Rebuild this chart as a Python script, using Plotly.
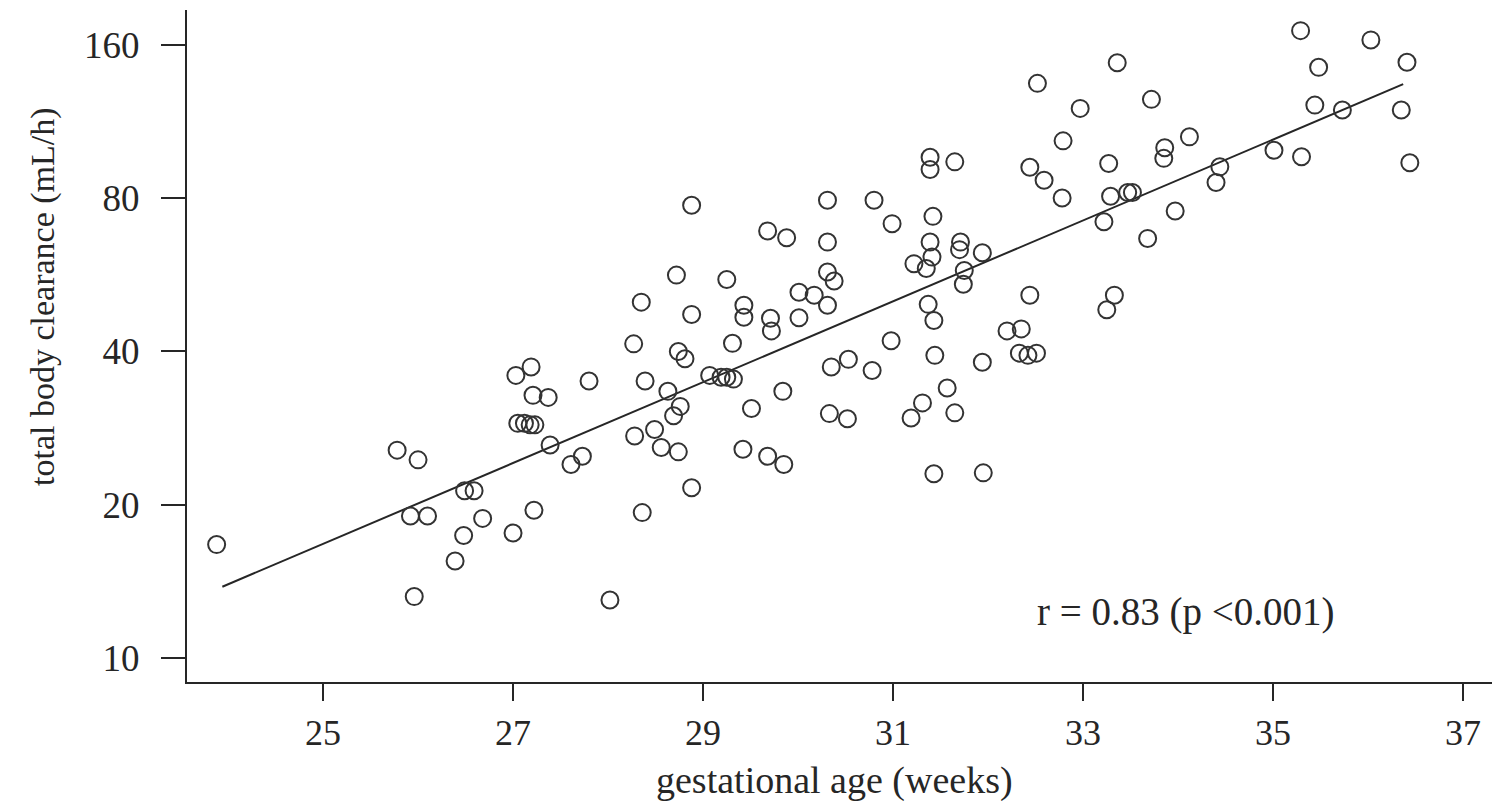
import plotly.graph_objects as go

# Gestational age (weeks) and total body clearance (mL/h) per infant
gest_age_weeks = [
    23.88, 25.78, 26.00, 26.49, 26.59, 25.92, 26.10, 26.68, 26.48, 26.39,
    25.96, 27.00, 27.03, 27.19, 27.21, 27.37, 27.05, 27.12, 27.18, 27.23,
    27.39, 27.61, 27.73, 27.22, 27.80, 28.02,
    28.88, 28.72, 28.35, 28.88, 28.27, 28.74, 28.81, 28.39, 28.63, 28.76,
    28.69, 28.28, 28.49, 28.56, 28.74, 28.88, 28.36,
    29.25, 29.43, 29.43, 29.71, 29.72, 29.31, 29.07, 29.19, 29.25, 29.32,
    29.51, 29.42, 29.68, 29.85, 29.84, 29.68, 29.88, 30.01, 30.01,
    30.31, 30.31, 30.31, 30.38, 30.17, 30.31, 30.53, 30.35, 30.78, 30.33,
    30.52, 30.80, 30.99, 30.98,
    31.39, 31.39, 31.65, 31.42, 31.39, 31.41, 31.22, 31.35, 31.71, 31.70,
    31.94, 31.75, 31.74, 31.37, 31.43, 31.44, 31.94, 31.57, 31.31, 31.19,
    31.65, 31.43, 31.95,
    32.44, 32.59, 32.78, 32.52, 32.97, 32.79, 32.44, 32.20, 32.35, 32.33,
    32.42, 32.51,
    33.27, 33.29, 33.47, 33.52, 33.22, 33.68, 33.97, 33.33, 33.25, 33.36,
    33.72, 34.12, 33.86, 33.85,
    34.44, 34.40, 35.01, 35.30, 35.29, 36.03, 36.41, 35.48, 36.35, 35.44,
    35.73, 36.44,
]
clearance_ml_h = [
    16.7, 25.6, 24.5, 21.3, 21.3, 19.0, 19.0, 18.8, 17.4, 15.5,
    13.2, 17.6, 35.9, 37.3, 32.8, 32.5, 28.9, 28.9, 28.7, 28.7,
    26.2, 24.0, 24.9, 19.5, 35.0, 13.0,
    77.5, 56.5, 50.0, 47.3, 41.4, 40.0, 38.7, 35.0, 33.4, 31.2,
    29.9, 27.3, 28.1, 25.9, 25.4, 21.6, 19.3,
    55.4, 49.3, 46.7, 46.5, 43.9, 41.5, 35.9, 35.6, 35.6, 35.3,
    30.9, 25.7, 24.9, 24.0, 33.4, 69.0, 66.9, 52.3, 46.6,
    79.3, 65.6, 57.3, 55.0, 51.6, 49.3, 38.6, 37.3, 36.7, 30.2,
    29.5, 79.3, 71.3, 42.0,
    96.3, 91.1, 94.3, 73.7, 65.6, 61.3, 59.5, 58.2, 65.6, 63.4,
    62.5, 57.7, 54.2, 49.5, 46.0, 39.3, 38.1, 33.9, 31.7, 29.6,
    30.3, 23.0, 23.1,
    92.0, 86.8, 80.1, 134.5, 120.1, 103.7, 51.6, 43.9, 44.3, 39.7,
    39.3, 39.7,
    93.6, 80.7, 82.1, 82.1, 71.9, 66.7, 75.5, 51.6, 48.3, 147.6,
    125.1, 105.6, 100.5, 95.8,
    92.2, 85.9, 99.4, 96.5, 170.7, 163.7, 148.0, 144.6, 119.2, 121.9,
    119.2, 93.9,
]

# Log-linear regression line end points
fit_weeks = [23.94, 36.37]
fit_clearance = [13.8, 134.0]

x_ticks = [25, 27, 29, 31, 33, 35, 37]
y_ticks = [10, 20, 40, 80, 160]
y_tick_text = ["10", "20", "40", "80", "160"]

SERIF = "Liberation Serif, Times New Roman, serif"
INK = "#262626"

fig = go.Figure()
fig.add_trace(go.Scatter(
    x=fit_weeks, y=fit_clearance, mode="lines",
    line=dict(color=INK, width=2), hoverinfo="skip", showlegend=False,
))
fig.add_trace(go.Scatter(
    x=gest_age_weeks, y=clearance_ml_h, mode="markers",
    marker=dict(symbol="circle-open", size=17, color="#333333",
                line=dict(width=2, color="#333333")),
    showlegend=False,
))

fig.update_layout(
    width=1495, height=801,
    margin=dict(l=187, r=3, t=10, b=119),
    paper_bgcolor="white", plot_bgcolor="white",
    font=dict(family=SERIF, color=INK),
    xaxis=dict(
        range=[23.568, 37.305], tickvals=x_ticks, ticks="outside",
        ticklen=17, tickwidth=2, tickcolor=INK,
        showline=True, linewidth=2, linecolor=INK,
        showgrid=False, zeroline=False,
        tickfont=dict(family=SERIF, size=36, color=INK),
        ticklabelstandoff=1,
    ),
    yaxis=dict(
        type="log", range=[0.9528, 2.2728],
        tickvals=y_ticks, ticktext=y_tick_text, ticks="outside",
        ticklen=24, tickwidth=2, tickcolor=INK,
        showline=True, linewidth=2, linecolor=INK,
        showgrid=False, zeroline=False,
        tickfont=dict(family=SERIF, size=37, color=INK),
        ticklabelstandoff=14,
    ),
    annotations=[
        dict(text="total body clearance (mL/h)", textangle=-90,
             xref="paper", yref="paper", x=0, y=0.573,
             xshift=-144, xanchor="center", yanchor="middle",
             showarrow=False, font=dict(family=SERIF, size=34, color=INK)),
        dict(text="gestational age (weeks)",
             xref="paper", yref="paper", x=0.4958, y=-0.1384,
             yshift=-5, xanchor="center", yanchor="middle",
             showarrow=False, font=dict(family=SERIF, size=38, color=INK)),
        dict(text="r = 0.83 (p <0.001)",
             xref="paper", yref="paper", x=0.7655, y=0.1042,
             xanchor="center", yanchor="middle",
             showarrow=False, font=dict(family=SERIF, size=39, color=INK)),
    ],
)

fig.write_html("out.html")
